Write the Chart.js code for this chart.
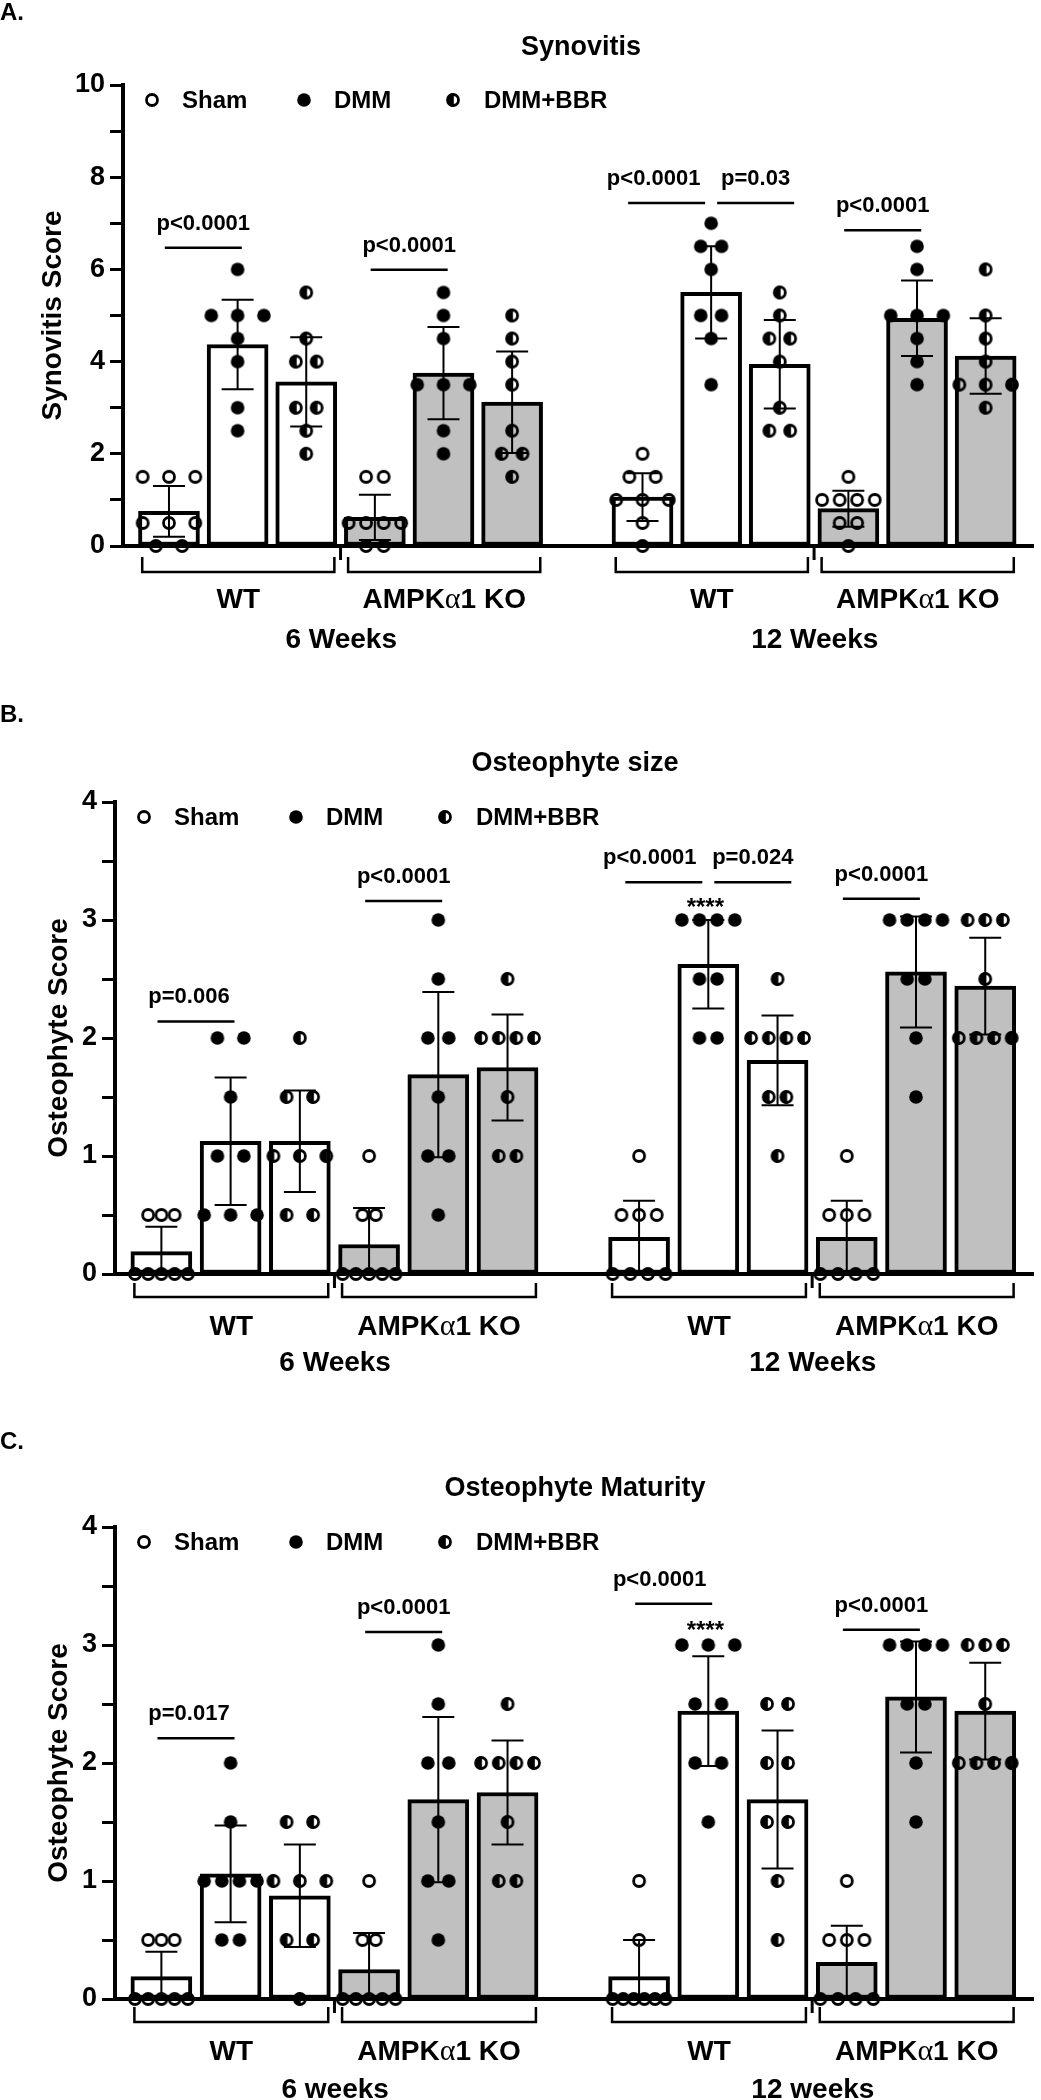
<!DOCTYPE html>
<html><head><meta charset="utf-8">
<script src="https://cdn.jsdelivr.net/npm/chart.js@4.4.1/dist/chart.umd.min.js"></script>
<style>
html,body{margin:0;padding:0;background:#fff;}
body{width:1041px;height:2100px;position:relative;overflow:hidden;font-family:"Liberation Sans",Arial,sans-serif;}
canvas{position:absolute;left:0;}
.lbl{position:absolute;font-weight:bold;color:#000;white-space:nowrap;line-height:1;z-index:2;}
</style></head><body>
<canvas id="cA" width="1041" height="700" style="top:0px"></canvas>
<canvas id="cB" width="1041" height="693" style="top:700px"></canvas>
<canvas id="cC" width="1041" height="707" style="top:1393px"></canvas>
<div class="lbl" style="left:0;top:11.5px;transform:translateY(-50%);font-size:24px">A.</div>
<div class="lbl" style="left:581px;top:46px;transform:translate(-50%,-50%);font-size:27px">Synovitis</div>
<div class="lbl" style="left:0;top:714px;transform:translateY(-50%);font-size:24px">B.</div>
<div class="lbl" style="left:575px;top:762px;transform:translate(-50%,-50%);font-size:27px">Osteophyte size</div>
<div class="lbl" style="left:0;top:1441px;transform:translateY(-50%);font-size:24px">C.</div>
<div class="lbl" style="left:575px;top:1487px;transform:translate(-50%,-50%);font-size:27px">Osteophyte Maturity</div>
<script>
// ---------------- DATA ----------------
const treatments = ['Sham', 'DMM', 'DMM+BBR'];
const genotypes = ['WT', 'AMPKα1 KO'];
const timepointsAB = ['6 Weeks', '12 Weeks'];
const timepointsC = ['6 weeks', '12 weeks'];
// bar order: 6 wk [WT Sham, WT DMM, WT DMM+BBR, KO Sham, KO DMM, KO DMM+BBR], then 12 wk same order

// A. Synovitis
const synovitisMean = [0.75, 4.37, 3.56, 0.62, 3.75, 3.12, 1.06, 5.50, 3.94, 0.81, 4.94, 4.12];
const synovitisSD   = [0.55, 0.97, 0.97, 0.49, 1.00, 1.10, 0.52, 1.00, 0.96, 0.39, 0.82, 0.82];
const synovitisPoints = [
  [1.5,1.5,1.5,0.5,0.5,0.5,0,0],
  [6,5,5,5,4.5,4,3,2.5],
  [5.5,4.5,4,4,3,3,2.5,2],
  [1.5,1.5,0.5,0.5,0.5,0.5,0,0],
  [5.5,5,4.5,3.5,3.5,3.5,2.5,2],
  [5,4.5,4,3.5,2.5,2,2,1.5],
  [2,1.5,1.5,1,1,1,0.5,0],
  [7,6.5,6.5,6,5,5,4.5,3.5],
  [5.5,5,4.5,4.5,4,3,2.5,2.5],
  [1.5,1,1,1,1,0.5,0.5,0],
  [6.5,6,5,5,5,4.5,4,3.5],
  [6,5,4.5,4,3.5,3.5,3.5,3]
];
const synovitisTickLabels = [0, 2, 4, 6, 8, 10];
const synovitisSigBars = [[0,1],[3,4],[6,7],[7,8],[9,10]];
const synovitisSigLevel = [6.47, 5.99, 7.44, 7.44, 6.85];
const synovitisSigText = ['p<0.0001','p<0.0001','p<0.0001','p=0.03','p<0.0001'];

// B. Osteophyte size
const sizeMean = [0.19, 1.125, 1.125, 0.25, 1.69, 1.75, 0.31, 2.625, 1.81, 0.31, 2.56, 2.44];
const sizeSD   = [0.21, 0.54, 0.43, 0.31, 0.70, 0.45, 0.31, 0.375, 0.38, 0.31, 0.47, 0.41];
const sizePoints = [
  [0.5,0.5,0.5,0,0,0,0,0],
  [2,2,1.5,1,1,0.5,0.5,0.5],
  [2,1.5,1.5,1,1,1,0.5,0.5],
  [1,0.5,0.5,0,0,0,0,0],
  [3,2.5,2,2,1.5,1,1,0.5],
  [2.5,2,2,2,2,1.5,1,1],
  [1,0.5,0.5,0.5,0,0,0,0],
  [3,3,3,3,2.5,2.5,2,2],
  [2.5,2,2,2,2,1.5,1.5,1],
  [1,0.5,0.5,0.5,0,0,0,0],
  [3,3,3,3,2.5,2.5,2,1.5],
  [3,3,3,2.5,2,2,2,2]
];
const sizeSigBars = [[0,1],[3,4],[6,7],[7,8],[9,10]];
const sizeSigLevel = [2.14, 3.16, 3.32, 3.32, 3.18];
const sizeSigText = ['p=0.006','p<0.0001','p<0.0001','p=0.024','p<0.0001'];
const sizeStarBar = 7, sizeStarLevel = 3.04, sizeStarText = '****';

// C. Osteophyte Maturity
const maturityMean = [0.19, 1.06, 0.875, 0.25, 1.69, 1.75, 0.19, 2.44, 1.69, 0.31, 2.56, 2.44];
const maturitySD   = [0.21, 0.41, 0.435, 0.31, 0.70, 0.44, 0.31, 0.465, 0.585, 0.31, 0.47, 0.41];
const maturityPoints = [
  [0.5,0.5,0.5,0,0,0,0,0],
  [2,1.5,1,1,1,1,0.5,0.5],
  [1.5,1.5,1,1,1,0.5,0.5,0],
  [1,0.5,0.5,0,0,0,0,0],
  [3,2.5,2,2,1.5,1,1,0.5],
  [2.5,2,2,2,2,1.5,1,1],
  [1,0.5,0,0,0,0,0,0],
  [3,3,3,2.5,2.5,2,2,1.5],
  [2.5,2.5,2,2,1.5,1.5,1,0.5],
  [1,0.5,0.5,0.5,0,0,0,0],
  [3,3,3,3,2.5,2.5,2,1.5],
  [3,3,3,2.5,2,2,2,2]
];
const maturitySigBars = [[0,1],[3,4],[6,7],[9,10]];
const maturitySigLevel = [2.21, 3.11, 3.35, 3.13];
const maturitySigText = ['p=0.017','p<0.0001','p<0.0001','p<0.0001'];
const maturityStarBar = 7, maturityStarLevel = 3.06, maturityStarText = '****';

const osteoTickLabels = [0, 1, 2, 3, 4];

// ---------------- DRAWING ----------------
const FONT = '"Liberation Sans", Arial, sans-serif';
const X_MIN = -0.67, X_MAX = 12.59;
function barPos(i){ return i + (i >= 6 ? 0.9 : 0); }

function makeMarker(kind){
  const c = document.createElement('canvas'); c.width = 20; c.height = 20;
  const g = c.getContext('2d'); const cx = 10, cy = 10;
  g.strokeStyle = '#000'; g.fillStyle = '#000'; g.lineWidth = 2.8;
  if (kind === 'filled') { g.beginPath(); g.arc(cx, cy, 6.8, 0, Math.PI*2); g.fill(); }
  else if (kind === 'open') { g.beginPath(); g.arc(cx, cy, 5.5, 0, Math.PI*2); g.stroke(); }
  else {
    g.beginPath(); g.arc(cx, cy, 5.5, 0, Math.PI*2); g.stroke();
    g.beginPath(); g.moveTo(cx + 0.8, cy); g.arc(cx + 0.8, cy, 6.9, Math.PI/2, Math.PI*1.5); g.closePath(); g.fill();
  }
  return c;
}
const markers = [makeMarker('open'), makeMarker('filled'), makeMarker('half')];

function spread(values, center, pxPerUnit){
  const counts = {}; values.forEach(v => counts[v] = (counts[v] || 0) + 1);
  const maxC = Math.max(...Object.values(counts));
  const s = maxC <= 1 ? 0 : (maxC === 2 ? 21 : 53 / (maxC - 1));
  const seen = {};
  return values.map(v => {
    seen[v] = (seen[v] === undefined) ? 0 : seen[v] + 1;
    const n = counts[v];
    return { x: center + (seen[v] - (n - 1) / 2) * s / pxPerUnit, y: v };
  });
}

function drawMixed(ctx, text, cx, cy, size){
  const parts = text.split('α');
  const fMain = 'bold ' + size + 'px ' + FONT;
  const fAlpha = (size + 2) + 'px "Liberation Serif", serif';
  const segs = [];
  parts.forEach((p, k) => { segs.push({t: p, f: fMain}); if (k < parts.length - 1) segs.push({t: 'α', f: fAlpha}); });
  let total = 0;
  segs.forEach(s => { ctx.font = s.f; s.w = ctx.measureText(s.t).width; total += s.w; });
  let x = cx - total / 2;
  ctx.textAlign = 'left'; ctx.textBaseline = 'middle';
  segs.forEach(s => { ctx.font = s.f; ctx.fillText(s.t, x, cy); x += s.w; });
}

function buildPanel(cfg){
  const canvas = document.getElementById(cfg.id);
  const H = canvas.height, A = cfg.area;
  const pxPerUnit = (A.right - A.left) / (X_MAX - X_MIN);
  const barData = cfg.mean.map((m, i) => ({ x: barPos(i), y: m }));
  const barColors = cfg.mean.map((m, i) => Math.floor((i % 6) / 3) === 1 ? '#c0c0c0' : '#ffffff');
  const scatterSets = treatments.map((t, ti) => {
    const pts = [];
    cfg.points.forEach((vals, i) => { if (i % 3 === ti) pts.push(...spread(vals, barPos(i), pxPerUnit)); });
    return { type: 'scatter', label: t, data: pts, pointStyle: markers[ti], pointRadius: 7,
             pointHoverRadius: 7, showLine: false, order: 1, clip: false };
  });

  const annot = {
    id: 'annot' + cfg.id,
    afterDatasetsDraw(chart){
      const ctx = chart.ctx, xs = chart.scales.x, ys = chart.scales.y, a = chart.chartArea;
      ctx.save();
      ctx.strokeStyle = '#000'; ctx.fillStyle = '#000';
      // error bars (mean ± SD)
      ctx.lineWidth = 2;
      cfg.mean.forEach((m, i) => {
        const sd = cfg.sd[i], x = xs.getPixelForValue(barPos(i));
        const hi = ys.getPixelForValue(m + sd), loV = m - sd, lo = ys.getPixelForValue(Math.max(loV, 0));
        ctx.beginPath(); ctx.moveTo(x, hi); ctx.lineTo(x, lo);
        ctx.moveTo(x - 16, hi); ctx.lineTo(x + 16, hi);
        if (loV > 0) { ctx.moveTo(x - 16, lo); ctx.lineTo(x + 16, lo); }
        ctx.stroke();
      });
      // significance lines
      const W = 77;
      cfg.sigBars.forEach((pair, k) => {
        const xa = xs.getPixelForValue(barPos(pair[0])), xb = xs.getPixelForValue(barPos(pair[1]));
        const hasRight = cfg.sigBars.some((o, j) => j !== k && o[0] === pair[1]);
        const hasLeft = cfg.sigBars.some((o, j) => j !== k && o[1] === pair[0]);
        let x1, x2;
        if (hasRight) { x2 = xb - 6; x1 = x2 - W; }
        else if (hasLeft) { x1 = xa + 6; x2 = x1 + W; }
        else { const c = (xa + xb) / 2; x1 = c - W / 2; x2 = c + W / 2; }
        const y = ys.getPixelForValue(cfg.sigLevel[k]);
        ctx.lineWidth = 2.5;
        ctx.beginPath(); ctx.moveTo(x1, y); ctx.lineTo(x2, y); ctx.stroke();
        ctx.font = 'bold 22px ' + FONT; ctx.textAlign = 'center'; ctx.textBaseline = 'alphabetic';
        ctx.fillText(cfg.sigText[k], (x1 + x2) / 2 + (cfg.textNudge[k] || 0), y - 18);
      });
      // asterisks
      if (cfg.starText) {
        ctx.font = 'bold 24px ' + FONT; ctx.textAlign = 'center'; ctx.textBaseline = 'alphabetic';
        ctx.fillText(cfg.starText, xs.getPixelForValue(barPos(cfg.starBar)) - 3, ys.getPixelForValue(cfg.starLevel));
      }
      // legend
      const mk = [29, 181, 330], tx = [59, 211, 361], ly = a.top + 15;
      treatments.forEach((t, k) => {
        ctx.drawImage(markers[k], a.left + mk[k] - 10, ly - 10);
        ctx.font = 'bold 24px ' + FONT; ctx.textAlign = 'left'; ctx.textBaseline = 'middle';
        ctx.fillText(t, a.left + tx[k], ly + 1);
      });
      // group brackets and labels
      for (let t = 0; t < 2; t++) {
        const gx = [];
        for (let g = 0; g < 2; g++) {
          const first = t * 6 + g * 3, last = first + 2;
          const x1 = xs.getPixelForValue(barPos(first) - 0.39), x2 = xs.getPixelForValue(barPos(last) + 0.41);
          const yT = a.bottom + cfg.bracket[0], yB = a.bottom + cfg.bracket[1];
          ctx.lineWidth = 2.5;
          ctx.beginPath(); ctx.moveTo(x1, yT); ctx.lineTo(x1, yB); ctx.lineTo(x2, yB); ctx.lineTo(x2, yT); ctx.stroke();
          drawMixed(ctx, genotypes[g], (x1 + x2) / 2, a.bottom + cfg.labelOff[0], 28);
          gx.push(x1, x2);
        }
        drawMixed(ctx, cfg.timepoints[t], (gx[0] + gx[3]) / 2, a.bottom + cfg.labelOff[1], 28);
        // separator tick between genotypes
        const sx = xs.getPixelForValue((barPos(t * 6 + 2) + barPos(t * 6 + 3)) / 2);
        ctx.lineWidth = 3;
        ctx.beginPath(); ctx.moveTo(sx, a.bottom); ctx.lineTo(sx, a.bottom + 14); ctx.stroke();
      }
      ctx.restore();
    }
  };

  return new Chart(canvas, {
    type: 'bar',
    data: {
      datasets: [
        { type: 'bar', label: cfg.yTitle, data: barData, backgroundColor: barColors, borderColor: '#000',
          borderWidth: 4, borderSkipped: false, barThickness: 61, order: 2, clip: false },
        ...scatterSets
      ]
    },
    options: {
      responsive: false, animation: false, devicePixelRatio: 1, events: [],
      layout: { padding: { left: 0, top: A.top, right: canvas.width - A.right, bottom: 0 } },
      plugins: { legend: { display: false }, tooltip: { enabled: false }, title: { display: false } },
      scales: {
        x: { type: 'linear', min: X_MIN, max: X_MAX, offset: false,
             grid: { display: false }, ticks: { display: false },
             border: { display: true, color: '#000', width: 4 },
             afterFit: (s) => { s.height = H - A.bottom; } },
        y: { type: 'linear', min: 0, max: cfg.yMax,
             ticks: { stepSize: cfg.step, autoSkip: false, padding: 5, color: '#000',
                      font: { family: FONT, size: 27, weight: 'bold' },
                      callback: (v) => cfg.tickLabels.includes(v) ? String(v) : '' },
             grid: { display: true, drawOnChartArea: false, drawTicks: true, tickLength: 13, tickWidth: 3, tickColor: '#000' },
             border: { display: true, color: '#000', width: 4 },
             title: { display: true, text: cfg.yTitle, color: '#000',
                      font: { family: FONT, size: 28, weight: 'bold' }, padding: { top: cfg.titlePad, bottom: 0 } },
             afterFit: (s) => { s.width = A.left; } }
      }
    },
    plugins: [annot]
  });
}

buildPanel({ id: 'cA', area: { left: 123, top: 85, right: 1040, bottom: 546 },
  mean: synovitisMean, sd: synovitisSD, points: synovitisPoints,
  yMax: 10, step: 1, tickLabels: synovitisTickLabels, yTitle: 'Synovitis Score', titlePad: 36,
  sigBars: synovitisSigBars, sigLevel: synovitisSigLevel, sigText: synovitisSigText, textNudge: {2: -13},
  bracket: [11, 26], labelOff: [54, 94], timepoints: timepointsAB });

buildPanel({ id: 'cB', area: { left: 115, top: 102, right: 1035, bottom: 574 },
  mean: sizeMean, sd: sizeSD, points: sizePoints,
  yMax: 4, step: 0.5, tickLabels: osteoTickLabels, yTitle: 'Osteophyte Score', titlePad: 42,
  sigBars: sizeSigBars, sigLevel: sizeSigLevel, sigText: sizeSigText, textNudge: {0: -7, 2: -14},
  starBar: sizeStarBar, starLevel: sizeStarLevel, starText: sizeStarText,
  bracket: [9, 23], labelOff: [53, 89], timepoints: timepointsAB });

buildPanel({ id: 'cC', area: { left: 115, top: 134, right: 1035, bottom: 606 },
  mean: maturityMean, sd: maturitySD, points: maturityPoints,
  yMax: 4, step: 0.5, tickLabels: osteoTickLabels, yTitle: 'Osteophyte Score', titlePad: 42,
  sigBars: maturitySigBars, sigLevel: maturitySigLevel, sigText: maturitySigText, textNudge: {0: -7, 2: -14},
  starBar: maturityStarBar, starLevel: maturityStarLevel, starText: maturityStarText,
  bracket: [8, 23], labelOff: [53, 91], timepoints: timepointsC });
</script>
</body></html>
